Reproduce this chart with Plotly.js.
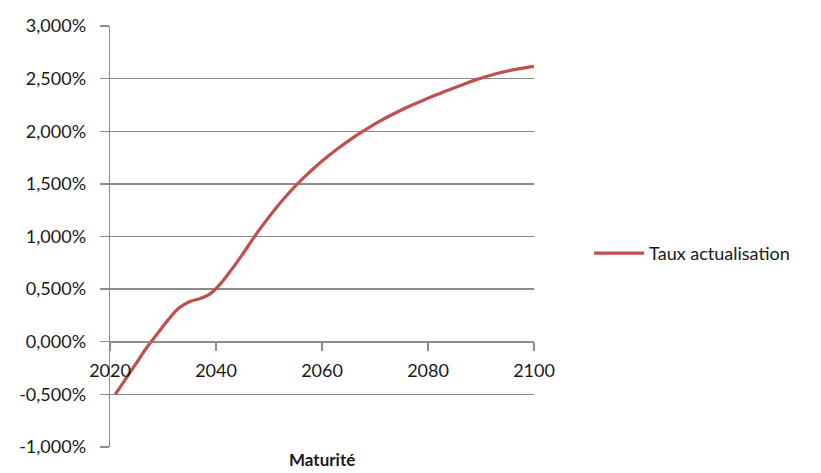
<!DOCTYPE html>
<html>
<head>
<meta charset="utf-8">
<script src="https://cdn.plot.ly/plotly-3.0.1.min.js"></script>
<style>html,body{margin:0;padding:0;background:#fff;}#chart{width:821px;height:473px;}</style>
</head>
<body>
<div id="chart"></div>
<script>
var years = [2021,2023,2025,2027,2029,2031,2033,2035,2037,2039,2041,2043,2045,2047,2049,2051,2053,2055,2057,2059,2061,2063,2065,2067,2069,2071,2073,2075,2077,2079,2081,2083,2085,2087,2089,2091,2093,2095,2097,2099,2100];
var rates = [-0.50,-0.35,-0.20,-0.05,0.08,0.21,0.32,0.38,0.41,0.46,0.56,0.69,0.83,0.98,1.12,1.25,1.37,1.48,1.58,1.672,1.757,1.836,1.909,1.977,2.04,2.098,2.152,2.202,2.249,2.293,2.335,2.375,2.414,2.452,2.488,2.52,2.548,2.572,2.592,2.609,2.617];
var seriesName = "Taux actualisation";
var xTicks = [2020,2040,2060,2080,2100];
var yTickVals = [-1,-0.5,0,0.5,1,1.5,2,2.5,3];
var yTickText = ["-1,000%","-0,500%","0,000%","0,500%","1,000%","1,500%","2,000%","2,500%","3,000%"];
var xTitle = "Maturité";

var trace = {
  x: years, y: rates, name: seriesName, type: 'scatter', mode: 'lines',
  line: {color: '#C0504D', width: 3.2, shape: 'spline', smoothing: 1},
  showlegend: true
};
var font = {family: 'Lato, "DejaVu Sans", sans-serif', size: 18, color: '#1a1a1a'};
var layout = {
  width: 821, height: 473,
  margin: {l: 110, r: 287, t: 26, b: 26, pad: 0},
  paper_bgcolor: '#fff', plot_bgcolor: '#fff',
  font: font,
  showlegend: true,
  xaxis: {
    range: [2020, 2100], tickvals: xTicks, ticktext: xTicks.map(String),
    anchor: 'free', position: 0.25,
    showgrid: false, zeroline: false,
    showline: true, linecolor: '#8c8c8c', linewidth: 1.3,
    ticks: 'outside', ticklen: 8, tickcolor: '#8c8c8c', tickwidth: 1.3,
    ticklabelstandoff: 4,
    tickfont: font, fixedrange: true
  },
  yaxis: {
    range: [-1, 3], tickvals: yTickVals, ticktext: yTickText,
    showgrid: true, gridcolor: '#8c8c8c', gridwidth: 1.3,
    zeroline: false, showline: true, linecolor: '#8c8c8c', linewidth: 1.3,
    ticks: 'outside', ticklen: 9, tickcolor: '#8c8c8c', tickwidth: 1.3,
    ticklabelstandoff: 10,
    tickfont: font, fixedrange: true
  },
  legend: {
    x: 1.13, xanchor: 'left', y: 0.46, yanchor: 'middle',
    font: font, itemwidth: 50, bgcolor: 'rgba(0,0,0,0)'
  },
  annotations: [{
    text: '<b>' + xTitle + '</b>', xref: 'paper', yref: 'paper',
    x: 0.5, y: 0, xanchor: 'center', yanchor: 'top', yshift: 0,
    showarrow: false, font: {family: font.family, size: 17, color: '#1a1a1a'}
  }]
};
Plotly.newPlot('chart', [trace], layout, {displayModeBar: false, staticPlot: true});
</script>
</body>
</html>
